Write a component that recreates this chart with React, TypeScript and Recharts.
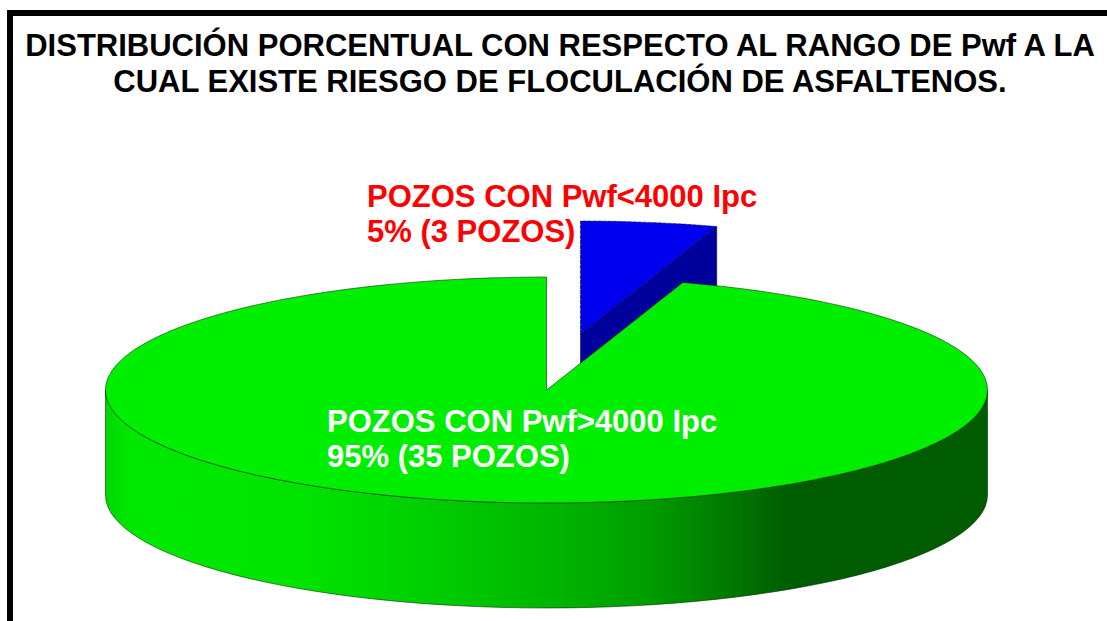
import React from "react";
import { PieChart, Pie } from "recharts";

const categories = ["POZOS CON Pwf<4000 Ipc", "POZOS CON Pwf>4000 Ipc"];
const percentages = [5, 95];
const wellCounts = [3, 35];
const titleLines = [
  "DISTRIBUCIÓN PORCENTUAL CON RESPECTO AL RANGO DE Pwf A LA",
  "CUAL EXISTE RIESGO DE FLOCULACIÓN DE ASFALTENOS.",
];

const chartData = categories.map((name, i) => ({ name, value: percentages[i], wells: wellCounts[i] }));

const FONT = "'Liberation Sans', Arial, sans-serif";
const FLATTEN = 113 / 441;
const DEPTH = 105;
const RAD = Math.PI / 180;
const EDGE = "rgba(0,40,0,0.7)";

function Slice3D(props: any) {
  const { cx, cy, outerRadius: R, startAngle, endAngle, index } = props;
  const exploded = index === 0;
  const ox = cx + (exploded ? 34 : 0);
  const oy = cy + (exploded ? -56 : 0);
  const ry = R * FLATTEN;
  const pt = (a: number) => [ox + R * Math.cos(a * RAD), oy - ry * Math.sin(a * RAD)];
  const [sx, sy] = pt(startAngle);
  const [ex, ey] = pt(endAngle);
  const large = Math.abs(endAngle - startAngle) > 180 ? 1 : 0;
  const top = `M${ox},${oy} L${sx},${sy} A${R},${ry} 0 ${large} 1 ${ex},${ey} Z`;
  if (exploded) {
    const face = `M${ox},${oy} L${ex},${ey} L${ex},${ey + DEPTH} L${ox},${oy + DEPTH} Z`;
    return (
      <g>
        <path d={face} fill="#00009c" stroke="rgba(0,0,40,0.6)" strokeWidth={0.8} />
        <path d={top} fill="#0000ee" stroke="rgba(0,0,40,0.7)" strokeWidth={0.8} strokeDasharray="4 1" />
      </g>
    );
  }
  const [rx0, ry0] = pt(0);
  const [lx0, ly0] = pt(180);
  const side = `M${rx0},${ry0} A${R},${ry} 0 0 1 ${lx0},${ly0} L${lx0},${ly0 + DEPTH} A${R},${ry} 0 0 0 ${rx0},${ry0 + DEPTH} Z`;
  return (
    <g>
      <defs>
        <linearGradient id="greenSide" x1="0" x2="1" y1="0" y2="0">
          <stop offset="0" stopColor="#00d800" />
          <stop offset="0.03" stopColor="#00e800" />
          <stop offset="0.22" stopColor="#00e400" />
          <stop offset="0.356" stopColor="#00d000" />
          <stop offset="0.515" stopColor="#00b400" />
          <stop offset="0.617" stopColor="#009c00" />
          <stop offset="0.7" stopColor="#007c00" />
          <stop offset="0.776" stopColor="#005c00" />
          <stop offset="1" stopColor="#005c00" />
        </linearGradient>
      </defs>
      <path d={side} fill="url(#greenSide)" stroke={EDGE} strokeWidth={0.8} />
      <path d={top} fill="#00ee00" stroke={EDGE} strokeWidth={0.8} />
    </g>
  );
}

function SliceLabel(props: any) {
  const { index, name, value, wells } = props;
  const lower = index === 1;
  const x = lower ? 327 : 367;
  const y = lower ? 432 : 207;
  return (
    <text x={x} y={y} fill={lower ? "#ffffff" : "#ff0000"} fontFamily={FONT} fontWeight="bold" fontSize={31}>
      <tspan x={x}>{name}</tspan>
      <tspan x={x} dy={34.5}>{`${value}% (${wells} POZOS)`}</tspan>
    </text>
  );
}

export default function App() {
  return (
    <div style={{ position: "absolute", left: 0, top: 0, width: 1107, height: 621, overflow: "hidden", background: "#fff" }}>
      <div style={{ position: "absolute", left: 7, top: 10, width: 1100, height: 611, borderLeft: "6px solid #000", borderTop: "6px solid #000", boxSizing: "border-box" }} />
      <PieChart width={1107} height={621} margin={{ top: 0, right: 0, bottom: 0, left: 0 }} style={{ position: "absolute", left: 0, top: 0 }}>
        <Pie
          data={chartData}
          dataKey="value"
          nameKey="name"
          cx={546.5}
          cy={390}
          innerRadius={0}
          outerRadius={441}
          startAngle={90}
          endAngle={-270}
          stroke="none"
          shape={Slice3D}
          label={SliceLabel}
          labelLine={false}
          isAnimationActive={false}
        />
      </PieChart>
      {titleLines.map((line, i) => (
        <div
          key={i}
          style={{
            position: "absolute",
            left: 0,
            top: 29 + i * 35.5,
            width: 1120,
            textAlign: "center",
            fontFamily: FONT,
            fontWeight: "bold",
            fontSize: 31,
            lineHeight: "34px",
            whiteSpace: "nowrap",
            color: "#000",
          }}
        >
          {line}
        </div>
      ))}
    </div>
  );
}
